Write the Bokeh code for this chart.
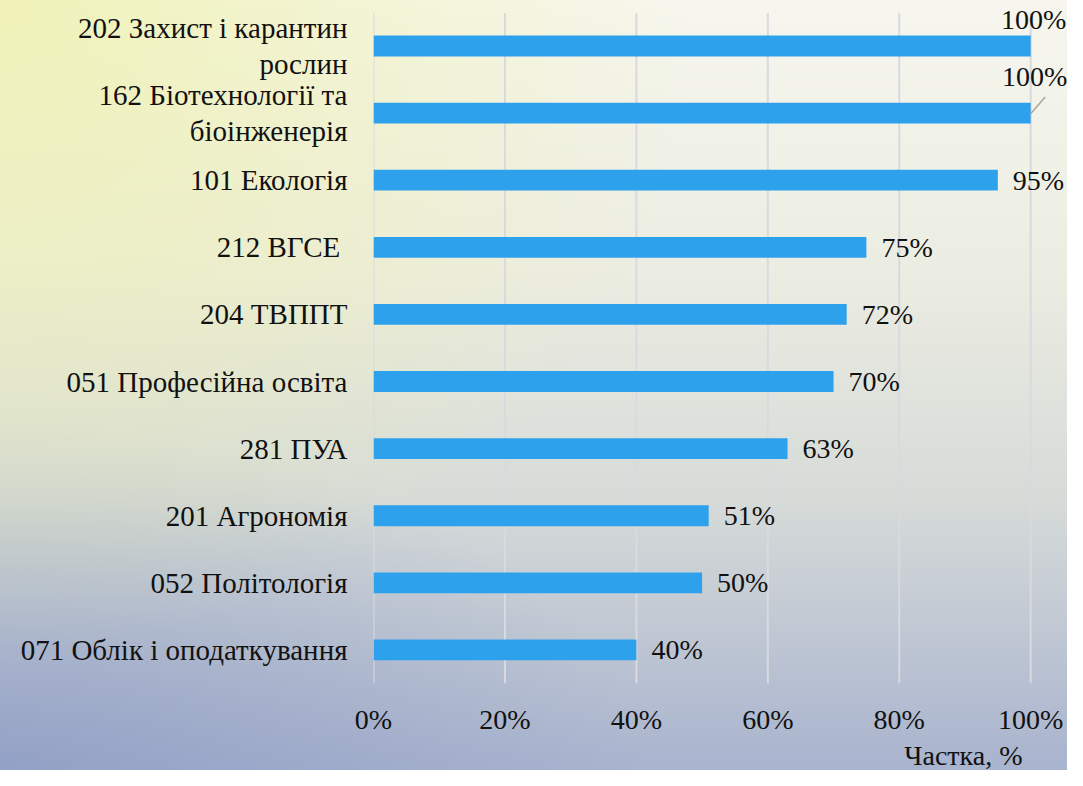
from bokeh.plotting import figure
from bokeh.models import ColumnDataSource, Range1d, FixedTicker
from bokeh.embed import file_html
from bokeh.resources import INLINE
from bokeh.core.properties import value

# ---- data ----
codes = ["202", "162", "101", "212", "204", "051", "281", "201", "052", "071"]
names = [
    "202 Захист і карантин\nрослин",
    "162 Біотехнології та\nбіоінженерія",
    "101 Екологія",
    "212  ВГСЕ",
    "204 ТВППТ",
    "051 Професійна освіта",
    "281 ПУА",
    "201 Агрономія",
    "052 Політологія",
    "071 Облік і оподаткування",
]
shares = [100, 100, 95, 75, 72, 70, 63, 51, 50, 40]
x_ticks = [0, 20, 40, 60, 80, 100]
x_tick_labels = ["0%", "20%", "40%", "60%", "80%", "100%"]
axis_title = "Частка, %"

FONT = "Liberation Serif"
BAR_COLOR = "#2EA1EC"
FS = "28px"
FS_Y = "29px"

n = len(codes)
ypos = [n - 1 - i for i in range(n)]  # top row at highest position

p = figure(
    width=1067, height=770,
    y_range=Range1d(-0.5, n - 1 + 0.678),
    x_range=Range1d(0, 105.6),
    output_backend="svg", toolbar_location=None,
    min_border_left=373, min_border_right=0, min_border_top=0, min_border_bottom=80,
)
p.styles = {
    "background": (
        "radial-gradient(ellipse 65% 85% at 0% 0%, rgba(236,240,140,0.55), rgba(236,240,140,0) 100%),"
        "radial-gradient(ellipse 60% 45% at 0% 100%, rgba(120,138,188,0.45), rgba(120,138,188,0) 100%),"
        "linear-gradient(to bottom, #F6F6EE 0%, #ECEDE2 35%, #D6DBD8 65%, #A8B3CE 100%)"
    )
}
p.background_fill_color = None
p.border_fill_color = None
p.outline_line_color = None

# vertical gridlines at the x ticks, spanning the category bands only
p.segment(x0=x_ticks, x1=x_ticks, y0=[-0.5] * len(x_ticks), y1=[n - 1 + 0.49] * len(x_ticks),
          line_color="#D9D9DF", line_width=2, level="underlay")

src = ColumnDataSource(dict(y=ypos, share=shares, label=[f"{v}%" for v in shares]))
p.hbar(y="y", right="share", left=0, height=0.31, source=src,
       fill_color=BAR_COLOR, line_color=None)

# label placement (computed in code)
x_off, y_off, align = [], [], []
full = [i for i, v in enumerate(shares) if v >= 100]
for i, v in enumerate(shares):
    if v >= 100:
        if i == full[0]:
            x_off.append(3); y_off.append(-26)
        else:
            x_off.append(4); y_off.append(-37)
        align.append("center")
    else:
        x_off.append(15); y_off.append(0); align.append("left")
src.data["xo"] = x_off
src.data["yo"] = y_off
src.data["al"] = align
p.text(x="share", y="y", text="label", x_offset="xo", y_offset="yo",
       text_align="al", text_baseline="middle", source=src,
       text_font=value(FONT), text_font_size=FS, text_color="#111111")

# leader line for the second full bar
if len(full) > 1:
    j = full[1]
    yc = ypos[j]
    p.segment(x0=[shares[j]], y0=[yc - 0.01], x1=[shares[j] + 2.2], y1=[yc + 0.24],
              line_color="#A6A6A6", line_width=1.5)

# axes
p.yaxis.ticker = FixedTicker(ticks=ypos)
p.yaxis.major_label_overrides = {y: nm for y, nm in zip(ypos, names)}
p.yaxis.major_label_text_font = FONT
p.yaxis.major_label_text_font_size = FS_Y
p.yaxis.major_label_text_color = "#111111"
p.yaxis.major_label_text_line_height = 1.12
p.yaxis.axis_line_color = None
p.yaxis.major_tick_line_color = None
p.yaxis.minor_tick_line_color = None
p.yaxis.major_label_standoff = 20
p.ygrid.grid_line_color = None

p.xaxis.ticker = FixedTicker(ticks=x_ticks)
p.xaxis.major_label_overrides = {t: l for t, l in zip(x_ticks, x_tick_labels)}
p.xaxis.major_label_text_font = FONT
p.xaxis.major_label_text_font_size = FS
p.xaxis.major_label_text_color = "#111111"
p.xaxis.axis_line_color = None
p.xaxis.major_tick_line_color = None
p.xaxis.minor_tick_line_color = None
p.xaxis.major_label_standoff = 14
p.xgrid.grid_line_color = None

p.title.text = axis_title
p.title_location = "below"
p.title.align = "right"
p.title.offset = 45
p.title.text_font = FONT
p.title.text_font_size = FS
p.title.text_font_style = "normal"
p.title.text_color = "#111111"
p.title.standoff = 0

open("out.html", "w").write(file_html(p, INLINE))
